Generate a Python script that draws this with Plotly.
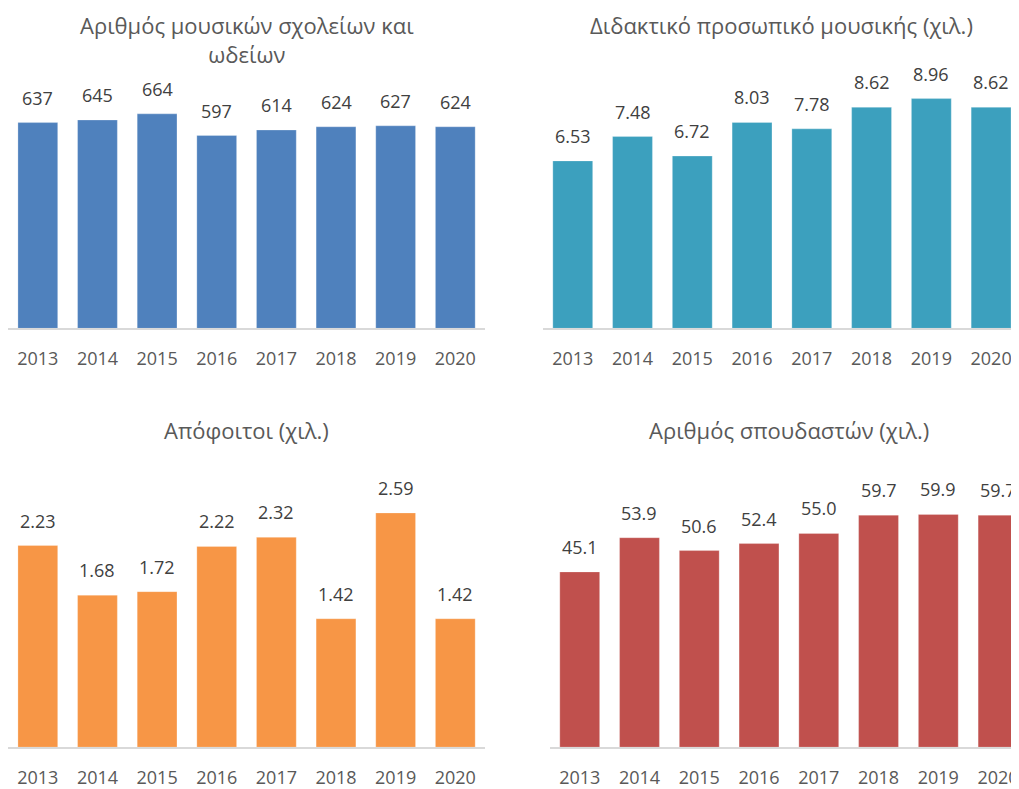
import plotly.graph_objects as go

years = ["2013", "2014", "2015", "2016", "2017", "2018", "2019", "2020"]

schools = [637, 645, 664, 597, 614, 624, 627, 624]
teachers = [6.53, 7.48, 6.72, 8.03, 7.78, 8.62, 8.96, 8.62]
graduates = [2.23, 1.68, 1.72, 2.22, 2.32, 1.42, 2.59, 1.42]
students = [45.1, 53.9, 50.6, 52.4, 55.0, 59.7, 59.9, 59.7]

# the page body has an 8px margin, so the figure is shifted by it
OFF = 8
W, H = 1019 - OFF, 789 - OFF
FONT = "Open Sans"


def fx(px):
    return (px - OFF) / W


def fy(px):
    return 1 - (px - OFF) / H


# title, values, label format, colour, x px span, baseline px, top px, y max, x range end
panels = [
    ("Αριθμός μουσικών σχολείων και<br>ωδείων", schools, "{:.0f}", "#4f81bd",
     (8, 487), 330, 80, 770, 7.5),
    ("Διδακτικό προσωπικό μουσικής (χιλ.)", teachers, "{:.2f}", "#3ca0be",
     (545, 1019), 330, 80, 9.70, -0.5 + (1019 - 545) / 60),
    ("Απόφοιτοι (χιλ.)", graduates, "{:.2f}", "#f79646",
     (8, 487), 751, 501, 2.75, 7.5),
    ("Αριθμός σπουδαστών (χιλ.)", students, "{:.1f}", "#c0504d",
     (552, 1019), 751, 501, 64.0, -0.5 + (1019 - 552) / 60),
]
title_x = [247.5, 785, 247.5, 792]
title_y = [40, 25, 432, 432]

fig = go.Figure()
annotations = []

for i, (title, vals, fmt, color, xs, base, top, ymax, xend) in enumerate(panels):
    n = "" if i == 0 else str(i + 1)
    fig.add_trace(go.Bar(
        x=years, y=vals, width=0.667,
        marker=dict(color=color, line=dict(color="rgba(255,255,255,0.5)", width=0.5)),
        xaxis="x" + n, yaxis="y" + n, hoverinfo="x+y", showlegend=False,
    ))
    fig.layout["xaxis" + n] = dict(
        domain=[max(fx(xs[0]), 0), min(fx(xs[1]), 1)], anchor="y" + n, type="category",
        range=[-0.5, xend], showline=True, linecolor="#d9d9d9", linewidth=2,
        showgrid=False, zeroline=False, ticks="outside", ticklen=13,
        tickcolor="rgba(0,0,0,0)", tickfont=dict(family=FONT, size=18, color="#595959"),
        fixedrange=True,
    )
    fig.layout["yaxis" + n] = dict(
        domain=[fy(base), fy(top)], anchor="x" + n, range=[0, ymax],
        showline=False, showticklabels=False, ticks="",
        showgrid=False, zeroline=False, fixedrange=True,
    )
    # category axes place annotations by category index
    for k, v in enumerate(vals):
        annotations.append(dict(
            x=k, y=v, xref="x" + n, yref="y" + n, text=fmt.format(v),
            showarrow=False, yanchor="bottom", yshift=11,
            font=dict(family=FONT, size=18, color="#404040"),
        ))
    annotations.append(dict(
        x=fx(title_x[i]), y=fy(title_y[i]), xref="paper", yref="paper",
        text=title, showarrow=False, xanchor="center", yanchor="middle",
        font=dict(family=FONT, size=22, color="#595959"),
    ))

fig.update_layout(
    width=W, height=H,
    margin=dict(l=0, r=0, t=0, b=0),
    paper_bgcolor="white", plot_bgcolor="white",
    annotations=annotations,
)

fig.write_html("out.html")
